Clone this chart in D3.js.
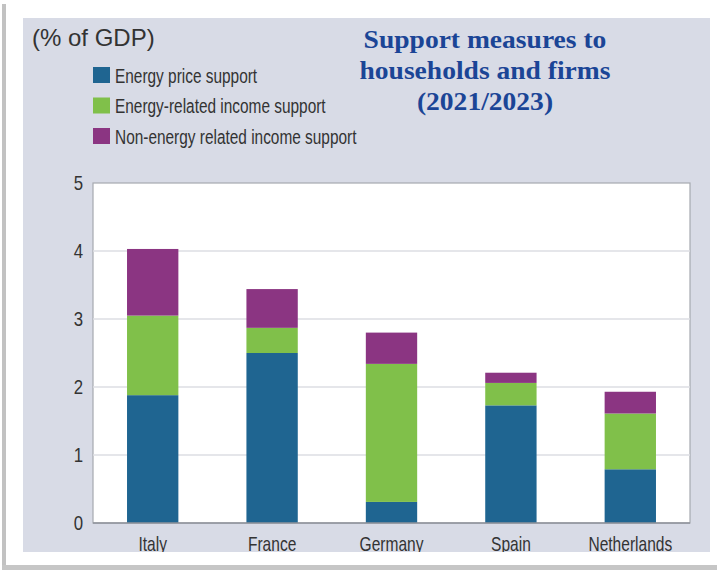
<!DOCTYPE html>
<html><head><meta charset="utf-8">
<script src="https://cdn.jsdelivr.net/npm/d3@7"></script>
<style>body{margin:0;background:#fff}svg{display:block}</style>
</head><body>
<script>
const categories = ["Italy", "France", "Germany", "Spain", "Netherlands"];
const seriesNames = ["Energy price support", "Energy-related income support", "Non-energy related income support"];
const energyPrice = [1.88, 2.50, 0.31, 1.73, 0.79];
const energyIncome = [1.17, 0.37, 2.03, 0.33, 0.82];
const nonEnergyIncome = [0.98, 0.57, 0.46, 0.15, 0.32];
const yTicks = [0, 1, 2, 3, 4, 5];
const colors = ["#1f6591", "#80c04a", "#8b3582"];

const W = 717, H = 570;
const svg = d3.select("body").append("svg").attr("width", W).attr("height", H);
const sans = "'Liberation Sans', Arial, sans-serif";
// condense text horizontally to imitate the narrow typeface
function condense(sel, f) {
  sel.each(function () {
    const len = this.getComputedTextLength();
    d3.select(this).attr("textLength", len * f).attr("lengthAdjust", "spacingAndGlyphs");
  });
}

// frame / shadow
svg.append("rect").attr("x", 2).attr("y", 4).attr("width", 4).attr("height", 566).attr("fill", "#c2c2c2");
svg.append("rect").attr("x", 2).attr("y", 565).attr("width", 715).attr("height", 5).attr("fill", "#c6c6c6");
svg.append("rect").attr("x", 23).attr("y", 18).attr("width", 687).attr("height", 534).attr("fill", "#d8dbe6");

svg.append("defs").append("clipPath").attr("id", "panelClip")
  .append("rect").attr("x", 23).attr("y", 18).attr("width", 687).attr("height", 534);

const x = d3.scaleBand().domain(categories).range([93, 690]).paddingInner(0.57).paddingOuter(0.285);
const y = d3.scaleLinear().domain([0, 5]).range([523, 183]);

svg.append("rect").attr("x", 93).attr("y", y(5)).attr("width", 597).attr("height", y(0) - y(5))
  .attr("fill", "#fff").attr("stroke", "#a6a9b0").attr("stroke-width", 1.2);

// gridlines
svg.append("g").selectAll("line").data(yTicks.filter(t => t > 0 && t < 5)).join("line")
  .attr("x1", 93).attr("x2", 690).attr("y1", d => y(d)).attr("y2", d => y(d))
  .attr("stroke", "#dcdee3").attr("stroke-width", 1.3);

// y axis
const yAxis = svg.append("g").attr("transform", "translate(93,0)")
  .call(d3.axisLeft(y).tickValues(yTicks).tickSize(0).tickPadding(10).tickFormat(d3.format("d")));
yAxis.select(".domain").remove();
yAxis.selectAll("text").attr("font-family", sans).attr("font-size", 21).attr("fill", "#333").attr("dy", "0.3em");
condense(yAxis.selectAll("text"), 0.8);

// stacked data
const rows = categories.map((c, i) => ({cat: c, s0: energyPrice[i], s1: energyIncome[i], s2: nonEnergyIncome[i]}));
const stack = d3.stack().keys(["s0", "s1", "s2"])(rows);
svg.append("g").selectAll("g").data(stack).join("g").attr("fill", (d, i) => colors[i])
  .selectAll("rect").data(d => d).join("rect")
  .attr("x", d => x(d.data.cat)).attr("width", x.bandwidth())
  .attr("y", d => y(d[1])).attr("height", d => y(d[0]) - y(d[1]));

// baseline
svg.append("line").attr("x1", 93).attr("x2", 690).attr("y1", y(0)).attr("y2", y(0)).attr("stroke", "#8f939b").attr("stroke-width", 1.5);

// x axis labels (clipped by panel edge like the reference)
const xAxis = svg.append("g").attr("clip-path", "url(#panelClip)").append("g").attr("transform", `translate(0,${y(0)})`)
  .call(d3.axisBottom(x).tickSize(0).tickPadding(13));
xAxis.select(".domain").remove();
xAxis.selectAll("text").attr("font-family", sans).attr("font-size", 21).attr("fill", "#333");
condense(xAxis.selectAll("text"), 0.74);

// unit label
svg.append("text").attr("x", 32).attr("y", 46).text("(% of GDP)")
  .attr("font-family", sans).attr("font-size", 24).attr("fill", "#333");

// legend
const leg = svg.append("g").selectAll("g").data(seriesNames).join("g")
  .attr("transform", (d, i) => `translate(93,${67 + i * 30.5})`);
leg.append("rect").attr("width", 17).attr("height", 16).attr("fill", (d, i) => colors[i]);
const legText = leg.append("text").attr("x", 22).attr("y", 15.5).text(d => d)
  .attr("font-family", sans).attr("font-size", 19.5).attr("fill", "#333");
condense(legText, 0.79);

// title
const title = ["Support measures to", "households and firms", "(2021/2023)"];
const tt = svg.append("g").selectAll("text").data(title).join("text")
  .attr("x", 485).attr("y", (d, i) => 48 + i * 31).attr("text-anchor", "middle").text(d => d)
  .attr("font-family", "'Liberation Serif', 'DejaVu Serif', serif").attr("font-weight", "bold")
  .attr("font-size", 25.5).attr("fill", "#1b4596");
condense(tt, 1.08);
</script>
</body></html>
